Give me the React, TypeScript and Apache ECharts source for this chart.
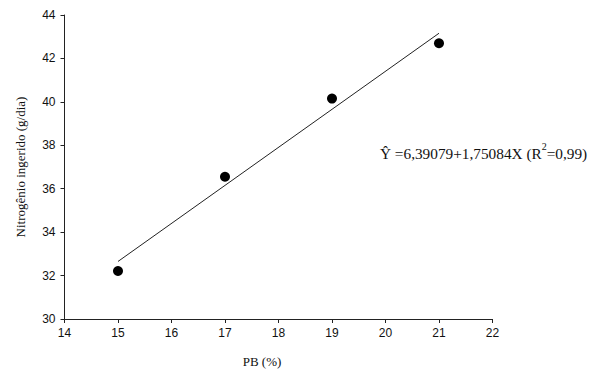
import React, { useEffect, useRef } from "react";
import * as echarts from "echarts";

const pbValues = [15, 17, 19, 21];
const nitrogenValues = [32.21, 36.55, 40.15, 42.7];
const fitX = [15, 21];
const fitY = [32.65, 43.16];
const equationText = "Ŷ =6,39079+1,75084X (R";
const equationSup = "2";
const equationEnd = "=0,99)";

export default function App() {
  const ref = useRef<HTMLDivElement>(null);
  useEffect(() => {
    if (!ref.current) return;
    const chart = echarts.init(ref.current, null, { renderer: "svg" });
    const axisCommon = {
      axisLine: { show: true, lineStyle: { color: "#222", width: 1 } },
      axisTick: { show: true, inside: false, length: 4, lineStyle: { color: "#222" } },
      axisLabel: { color: "#111", fontFamily: "Liberation Sans", fontSize: 12 },
      splitLine: { show: false },
      nameTextStyle: { color: "#111", fontFamily: "Liberation Serif", fontSize: 13 },
    };
    chart.setOption({
      animation: false,
      backgroundColor: "#fff",
      grid: { left: 64.5, right: 107.5, top: 15, bottom: 50 },
      xAxis: {
        type: "value",
        min: 14,
        max: 22,
        interval: 1,
        name: "PB (%)",
        nameLocation: "middle",
        nameGap: 36,
        ...axisCommon,
        axisLabel: { ...axisCommon.axisLabel, margin: 8 },
        nameTextStyle: { ...axisCommon.nameTextStyle, padding: [0, 33, 0, 0] },
      },
      yAxis: {
        type: "value",
        min: 30,
        max: 44,
        interval: 2,
        name: "Nitrogênio ingerido (g/dia)",
        nameLocation: "middle",
        nameGap: 38,
        ...axisCommon,
        axisLabel: { ...axisCommon.axisLabel, margin: 9 },
      },
      series: [
        {
          type: "line",
          data: fitX.map((x, i) => [x, fitY[i]]),
          symbol: "none",
          lineStyle: { color: "#222", width: 1 },
          silent: true,
        },
        {
          type: "scatter",
          data: pbValues.map((x, i) => [x, nitrogenValues[i]]),
          symbol: "circle",
          symbolSize: 10,
          itemStyle: { color: "#000", opacity: 1 },
        },
      ],
      graphic: [
        {
          type: "text",
          left: 380,
          top: 141,
          style: {
            text: `{a|${equationText}}{s|${equationSup}}{a|${equationEnd}}`,
            rich: {
              a: { fontFamily: "Liberation Serif", fontSize: 15.3, fill: "#111", lineHeight: 20, verticalAlign: "bottom" },
              s: { fontFamily: "Liberation Serif", fontSize: 10, fill: "#111", lineHeight: 20, verticalAlign: "top", padding: [0, 0, 10, 0] },
            },
          },
        },
      ],
    });
    return () => chart.dispose();
  }, []);
  return <div ref={ref} style={{ width: 600, height: 373, position: "absolute", left: 0, top: 0 }} />;
}
